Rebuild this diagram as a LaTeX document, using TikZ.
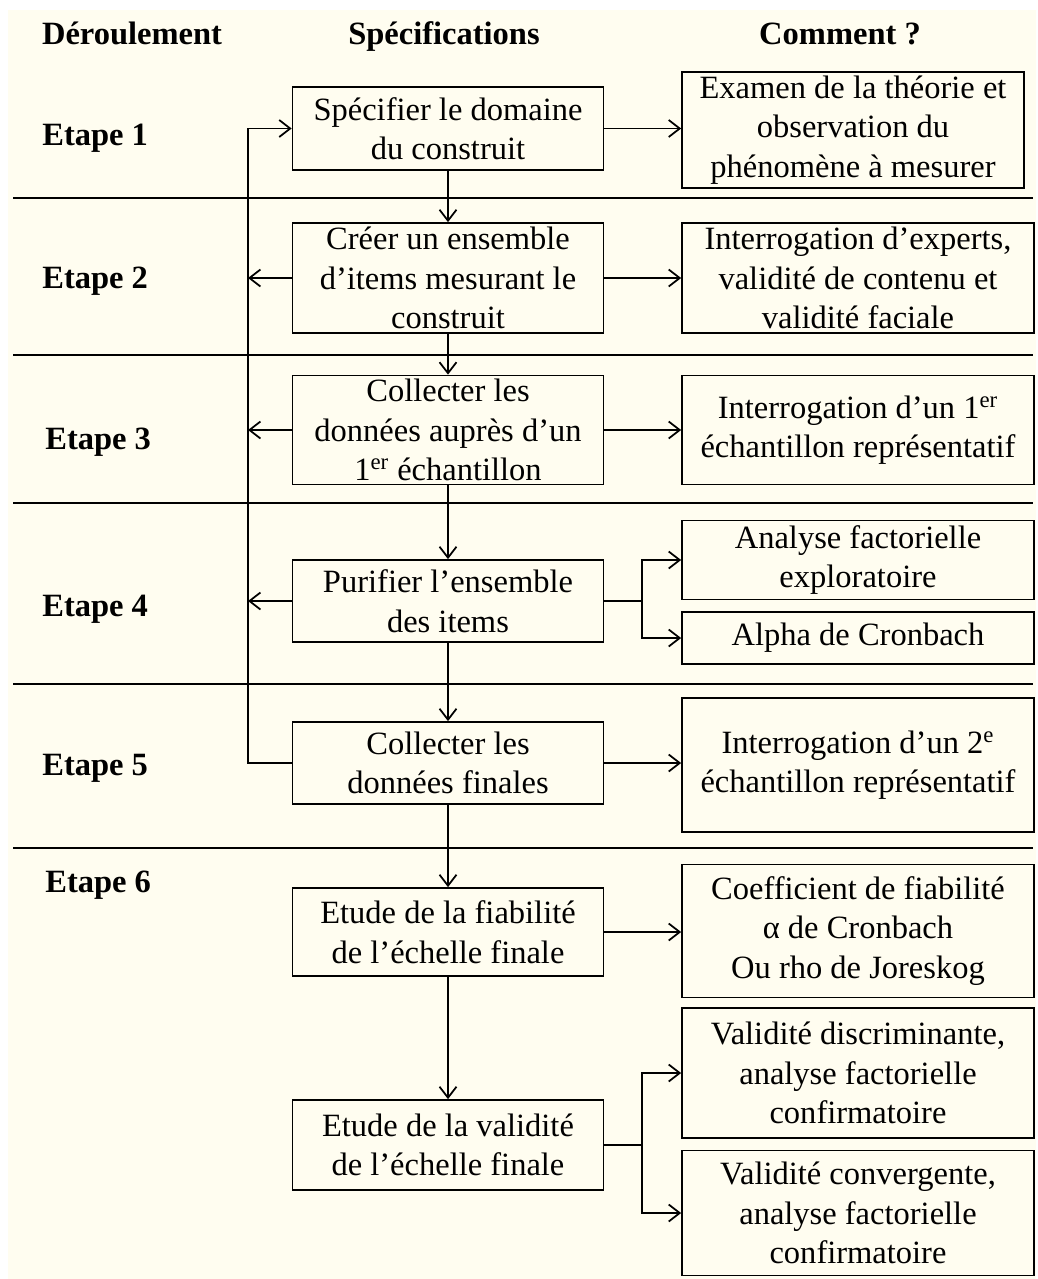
\documentclass[tikz,border=0pt]{standalone}
\usepackage{fontspec}
\setmainfont{Liberation Serif}
\usetikzlibrary{arrows.meta,positioning}
\definecolor{ivory}{RGB}{255,253,240}
\newcommand{\diagfont}{\fontsize{18.5}{22.5}\selectfont}

\begin{document}
\begin{tikzpicture}[
  x=0.02cm, y=-0.02cm,
  every node/.style={font=\diagfont},
  spec/.style={draw,line width=1pt,minimum width=6.22cm,align=center,inner sep=2pt,fill=ivory},
  how/.style={draw,line width=1pt,minimum width=7.04cm,align=center,inner sep=2pt,fill=ivory},
  head/.style={font=\diagfont\bfseries,inner sep=0pt,anchor=base},
  etape/.style={font=\diagfont\bfseries,anchor=base west,inner sep=0pt},
  rule/.style={line width=1pt},
  >={Straight Barb[length=2.2mm,width=3.4mm]}
]
\useasboundingbox (0,0) rectangle (1038,1279);
\fill[ivory] (8,10) rectangle (1036,1279);

% column heads
\node[head] (hd1) at (132,44) {Déroulement};
\node[head] (hd2) at (444,44) {Spécifications};
\node[head] (hd3) at (840,44) {Comment ?};

% steps
\node[etape] (e1) at (42,145) {Etape 1};
\node[etape] (e2) at (42,288) {Etape 2};
\node[etape] (e3) at (45,449) {Etape 3};
\node[etape] (e4) at (42,616) {Etape 4};
\node[etape] (e5) at (42,775) {Etape 5};
\node[etape] (e6) at (45,892) {Etape 6};

\foreach \y in {198,355,503,684,848}
  \draw[rule] (13,\y) -- (1033,\y);

% specifications
\node[spec,minimum height=1.66cm] (s1) at (448,128.5) {Spécifier le domaine\\du construit};
\node[spec,minimum height=2.2cm] (s2) at (448,278) {Créer un ensemble\\d’items mesurant le\\construit};
\node[spec,minimum height=2.18cm] (s3) at (448,430) {Collecter les\\données auprès d’un\\1\textsuperscript{er} échantillon};
\node[spec,minimum height=1.64cm] (s4) at (448,601) {Purifier l’ensemble\\des items};
\node[spec,minimum height=1.64cm] (s5) at (448,763) {Collecter les\\données finales};
\node[spec,minimum height=1.76cm] (s6) at (448,932) {Etude de la fiabilité\\de l’échelle finale};
\node[spec,minimum height=1.8cm] (s7) at (448,1145) {Etude de la validité\\de l’échelle finale};

% how
\node[how,minimum width=6.84cm,minimum height=2.2cm] (c1) at (853,130) {Examen de la théorie et\\observation du\\phénomène à mesurer};
\node[how,minimum height=2.2cm] (c2) at (858,278) {Interrogation d’experts,\\validité de contenu et\\validité faciale};
\node[how,minimum height=2.18cm] (c3) at (858,430) {Interrogation d’un 1\textsuperscript{er}\\échantillon représentatif};
\node[how,minimum height=1.58cm] (c4a) at (858,560) {Analyse factorielle\\exploratoire};
\node[how,minimum height=1.04cm] (c4b) at (858,638) {Alpha de Cronbach};
\node[how,minimum height=2.68cm] (c5) at (858,765) {Interrogation d’un 2\textsuperscript{e}\\échantillon représentatif};
\node[how,minimum height=2.66cm] (c6) at (858,931) {Coefficient de fiabilité\\α de Cronbach\\Ou rho de Joreskog};
\node[how,minimum height=2.6cm] (c7a) at (858,1073) {Validité discriminante,\\analyse factorielle\\confirmatoire};
\node[how,minimum height=2.5cm] (c7b) at (858,1213) {Validité convergente,\\analyse factorielle\\confirmatoire};

\coordinate (fb) at (248,0);
\coordinate (f4) at (642,601);
\coordinate (f7) at (642,1145);

% main flow
\foreach \a/\b in {s1/s2,s2/s3,s3/s4,s4/s5,s5/s6,s6/s7}
  \draw[->,line width=1pt] (\a.south) -- (\b.north);

\draw[->,line width=1pt] (s1.east) -- (s1.east -| c1.west);
\foreach \a/\b in {s2/c2,s3/c3,s5/c5,s6/c6}
  \draw[->,line width=1pt] (\a.east) -- (\a.east -| \b.west);

\draw[line width=1pt] (s4.east) -- (f4);
\draw[->,line width=1pt] (f4) |- (c4a.west);
\draw[->,line width=1pt] (f4) |- (c4b.west);
\draw[line width=1pt] (s7.east) -- (f7);
\draw[->,line width=1pt] (f7) |- (c7a.west);
\draw[->,line width=1pt] (f7) |- (c7b.west);

% feedback loop
\draw[->,line width=1pt] (s5.west) -- (s5.west -| fb) |- (s1.west);
\foreach \a in {s2,s3,s4}
  \draw[->,line width=1pt] (\a.west) -- (\a.west -| fb);

\end{tikzpicture}
\end{document}
